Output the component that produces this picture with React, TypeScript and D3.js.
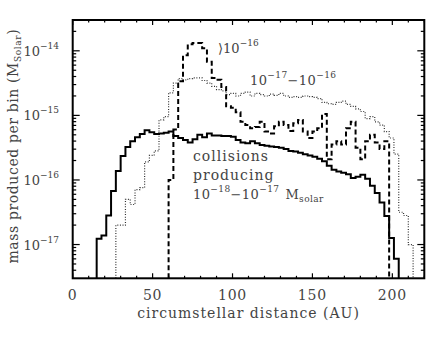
import React from "react";
import * as d3 from "d3";

// histogram bins are 3 AU wide; values are log10 of mass per bin
const binWidth = 3;

const solidStart = 15;
const solidLog = [
  -16.91, -16.86, -16.55, -16.17, -15.86, -15.63, -15.49, -15.4, -15.34, -15.29,
  -15.23, -15.26, -15.29, -15.28, -15.27, -15.25, -15.32, -15.35, -15.38, -15.42,
  -15.37, -15.3, -15.34, -15.28, -15.31, -15.31, -15.32, -15.32, -15.33, -15.38,
  -15.42, -15.43, -15.4, -15.43, -15.46, -15.47, -15.48, -15.49, -15.5, -15.52,
  -15.55, -15.56, -15.58, -15.6, -15.62, -15.64, -15.67, -15.71, -15.78, -15.84,
  -15.87, -15.89, -15.91, -15.97, -15.95, -15.92, -15.98, -16.09, -16.2, -16.35,
  -16.56, -16.9, -17.22,
];

const dashedStart = 60;
const dashedLog = [
  -16.0, -15.22, -14.47, -14.07, -13.9, -13.88, -13.88, -13.96, -14.17, -14.42,
  -14.45, -14.56, -14.86, -14.88, -14.95, -15.1, -15.15, -15.2, -15.18, -15.1,
  -15.25, -15.28, -15.17, -15.1, -15.15, -15.24, -15.12, -15.07, -15.25, -15.35,
  -15.25, -15.2, -14.98, -15.68, -15.45, -15.4, -15.45, -15.2, -15.1, -15.5,
  -15.68, -15.4, -15.3, -15.42, -15.52, -15.4,
];

const dottedStart = 27;
const dottedLog = [
  -16.7, -16.7, -16.3, -16.38, -16.15, -16.12, -15.72, -15.62, -15.55, -15.07,
  -15.02, -14.65, -14.5, -14.43, -14.45, -14.43, -14.42, -14.42, -14.46, -14.5,
  -14.55, -14.6, -14.62, -14.68, -14.66, -14.7, -14.66, -14.64, -14.7, -14.66,
  -14.68, -14.7, -14.67, -14.69, -14.66, -14.7, -14.72, -14.71, -14.72, -14.7,
  -14.71, -14.72, -14.74, -14.8, -14.82, -14.83, -14.8, -14.78, -14.83, -14.86,
  -14.9, -14.94, -15.05, -15.02, -15.1, -15.15, -15.25, -15.35, -15.6, -16.5,
  -16.55, -17.0,
];

const xTicks = [0, 50, 100, 150, 200];
const xMinor = d3.range(0, 221, 10);
const yDecades = [-17, -16, -15, -14];

const W = 440;
const H = 340;
const left = 72.7, right = 424.3, top = 20, bottom = 278.3;
const font = "'DejaVu Serif', 'Liberation Serif', serif";
const textColor = "#444";

const x = d3.scaleLinear().domain([0, 220]).range([left, right]);
const y = d3.scaleLog().domain([3e-18, 3e-14]).range([bottom, top]);

function stepPath(start: number, logs: number[]) {
  const floor = y.domain()[0];
  const pts: [number, number][] = [[start, floor]];
  logs.forEach((v, i) => pts.push([start + i * binWidth, Math.pow(10, v)]));
  pts.push([start + logs.length * binWidth, floor]);
  const line = d3
    .line<[number, number]>()
    .x((d) => x(d[0]))
    .y((d) => y(Math.max(d[1], floor)))
    .curve(d3.curveStepAfter);
  return line(pts) || "";
}

export default function App() {
  const yMinor: number[] = [];
  for (let e = -18; e <= -14; e++) {
    for (let m = 2; m <= 9; m++) {
      const v = m * Math.pow(10, e);
      if (v > 3.05e-18 && v < 2.95e-14) yMinor.push(v);
    }
  }

  return (
    <svg
      width={W}
      height={H}
      style={{ position: "absolute", left: 0, top: 0, background: "#fff" }}
    >
      <defs>
        <clipPath id="plot">
          <rect x={left} y={top} width={right - left} height={bottom - top} />
        </clipPath>
      </defs>

      <g clipPath="url(#plot)" fill="none">
        <path
          d={stepPath(dottedStart, dottedLog)}
          stroke="#333"
          strokeWidth={1.2}
          strokeDasharray="1,1.6"
        />
        <path
          d={stepPath(dashedStart, dashedLog)}
          stroke="#000"
          strokeWidth={2}
          strokeDasharray="5,3"
        />
        <path d={stepPath(solidStart, solidLog)} stroke="#000" strokeWidth={2} />
      </g>

      {/* ticks, drawn inward on all four sides */}
      <g stroke="#000" strokeWidth={1.2}>
        {xMinor.map((t) => {
          const major = t % 50 === 0;
          const len = major ? 5 : 2.5;
          return (
            <g key={"xt" + t}>
              <line x1={x(t)} x2={x(t)} y1={bottom} y2={bottom - len} />
              <line x1={x(t)} x2={x(t)} y1={top} y2={top + len} />
            </g>
          );
        })}
        {yDecades.map((e) => {
          const yy = y(Math.pow(10, e));
          return (
            <g key={"yd" + e}>
              <line x1={left} x2={left + 7} y1={yy} y2={yy} />
              <line x1={right} x2={right - 7} y1={yy} y2={yy} />
            </g>
          );
        })}
        {yMinor.map((v, i) => (
          <g key={"ym" + i}>
            <line x1={left} x2={left + 3.5} y1={y(v)} y2={y(v)} />
            <line x1={right} x2={right - 3.5} y1={y(v)} y2={y(v)} />
          </g>
        ))}
      </g>

      <rect
        x={left}
        y={top}
        width={right - left}
        height={bottom - top}
        fill="none"
        stroke="#000"
        strokeWidth={2}
      />

      <g fontFamily={font} fill={textColor}>
        {xTicks.map((t) => (
          <text
            key={"xl" + t}
            x={x(t)}
            y={300}
            fontSize={14}
            letterSpacing={0.8}
            textAnchor="middle"
          >
            {t}
          </text>
        ))}
        {yDecades.map((e) => (
          <text
            key={"yl" + e}
            x={59}
            y={y(Math.pow(10, e)) + 5}
            fontSize={13}
            textAnchor="end"
          >
            10
            <tspan fontSize={9} dy={-7}>
              {"\u2212" + Math.abs(e)}
            </tspan>
          </text>
        ))}

        <text
          x={(left + right) / 2}
          y={318}
          fontSize={14}
          letterSpacing={1}
          textAnchor="middle"
        >
          circumstellar distance (AU)
        </text>
        <text
          transform={`translate(18,${(top + bottom) / 2 - 3}) rotate(-90)`}
          fontSize={14}
          letterSpacing={0.6}
          textAnchor="middle"
        >
          mass produced per bin (M
          <tspan fontSize={9} dy={3}>
            Solar
          </tspan>
          <tspan dy={-3}>)</tspan>
        </text>

        <text x={218} y={53} fontSize={13}>
          {"\u27e910"}
          <tspan fontSize={9} dy={-7}>
            {"\u221216"}
          </tspan>
        </text>
        <text x={250} y={85} fontSize={13} letterSpacing={0.4}>
          10
          <tspan fontSize={9} dy={-7}>
            {"\u221217"}
          </tspan>
          <tspan dy={7}>{"\u221210"}</tspan>
          <tspan fontSize={9} dy={-7}>
            {"\u221216"}
          </tspan>
        </text>
        <text x={193} y={161} fontSize={14} letterSpacing={1}>
          collisions
        </text>
        <text x={193} y={180} fontSize={14} letterSpacing={1}>
          producing
        </text>
        <text x={193} y={199} fontSize={13} letterSpacing={0.4}>
          10
          <tspan fontSize={9} dy={-7}>
            {"\u221218"}
          </tspan>
          <tspan dy={7}>{"\u221210"}</tspan>
          <tspan fontSize={9} dy={-7}>
            {"\u221217"}
          </tspan>
          <tspan dy={7} dx={6}>
            M
          </tspan>
          <tspan fontSize={9} dy={3}>
            solar
          </tspan>
        </text>
      </g>
    </svg>
  );
}
